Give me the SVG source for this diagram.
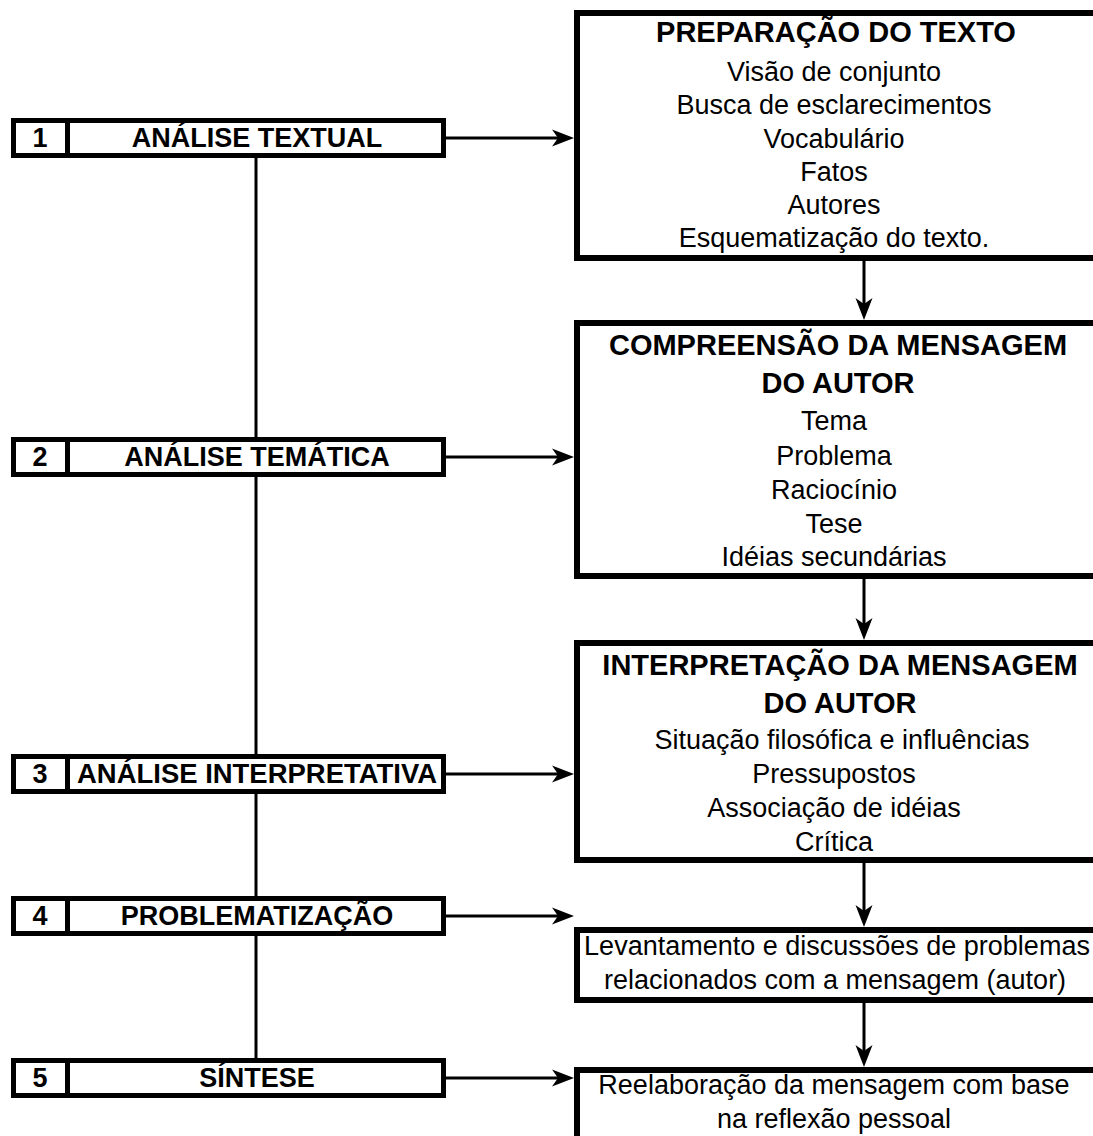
<svg xmlns="http://www.w3.org/2000/svg" width="1093" height="1136" viewBox="0 0 1093 1136">
<style>
text{font-family:"Liberation Sans",Arial,sans-serif;font-size:27px;fill:#000;text-anchor:middle}
.b{font-weight:bold}
.t{font-weight:bold;font-size:29px}
.box{fill:#fff;stroke:#000;stroke-width:5}
.rbox{fill:#fff;stroke:#000;stroke-width:6}
.ln{stroke:#000;stroke-width:3;fill:none}
</style>
<defs>
<marker id="ah" markerUnits="userSpaceOnUse" viewBox="0 0 22 18" markerWidth="22" markerHeight="18" refX="6" refY="9" orient="auto">
<path d="M0,0.5 L22,9 L0,17.5 L6,9 Z" fill="#000"/>
</marker>
</defs>
<g id="connectors">
<line class="ln" x1="256" y1="158" x2="256" y2="1059"/>
<line class="ln" x1="446" y1="138" x2="558" y2="138" marker-end="url(#ah)"/>
<line class="ln" x1="446" y1="457" x2="558" y2="457" marker-end="url(#ah)"/>
<line class="ln" x1="446" y1="774" x2="558" y2="774" marker-end="url(#ah)"/>
<line class="ln" x1="446" y1="916" x2="558" y2="916" marker-end="url(#ah)"/>
<line class="ln" x1="446" y1="1078" x2="558" y2="1078" marker-end="url(#ah)"/>
<line class="ln" x1="864" y1="261" x2="864" y2="304" marker-end="url(#ah)"/>
<line class="ln" x1="864" y1="579" x2="864" y2="624" marker-end="url(#ah)"/>
<line class="ln" x1="864" y1="863" x2="864" y2="911" marker-end="url(#ah)"/>
<line class="ln" x1="864" y1="1003" x2="864" y2="1051" marker-end="url(#ah)"/>
</g>
<g id="step1">
<rect class="box" x="13.5" y="120.5" width="430" height="35"/>
<line x1="67.5" y1="120" x2="67.5" y2="156" stroke="#000" stroke-width="5"/>
<text class="b" x="40" y="147">1</text>
<text class="b" x="257" y="147">ANÁLISE TEXTUAL</text>
</g>
<g id="step2">
<rect class="box" x="13.5" y="439.5" width="430" height="35"/>
<line x1="67.5" y1="439" x2="67.5" y2="475" stroke="#000" stroke-width="5"/>
<text class="b" x="40" y="466">2</text>
<text class="b" x="257" y="466">ANÁLISE TEMÁTICA</text>
</g>
<g id="step3">
<rect class="box" x="13.5" y="756.5" width="430" height="35"/>
<line x1="67.5" y1="756" x2="67.5" y2="792" stroke="#000" stroke-width="5"/>
<text class="b" x="40" y="783">3</text>
<text class="b" x="257" y="783" textLength="360" lengthAdjust="spacingAndGlyphs">ANÁLISE INTERPRETATIVA</text>
</g>
<g id="step4">
<rect class="box" x="13.5" y="898.5" width="430" height="35"/>
<line x1="67.5" y1="898" x2="67.5" y2="934" stroke="#000" stroke-width="5"/>
<text class="b" x="40" y="925">4</text>
<text class="b" x="257" y="925">PROBLEMATIZAÇÃO</text>
</g>
<g id="step5">
<rect class="box" x="13.5" y="1060.5" width="430" height="35"/>
<line x1="67.5" y1="1060" x2="67.5" y2="1096" stroke="#000" stroke-width="5"/>
<text class="b" x="40" y="1087">5</text>
<text class="b" x="257" y="1087">SÍNTESE</text>
</g>
<g id="box1">
<rect class="rbox" x="577" y="13" width="530" height="245"/>
<text class="t" x="836" y="42">PREPARAÇÃO DO TEXTO</text>
<text x="834" y="81">Visão de conjunto</text>
<text x="834" y="114">Busca de esclarecimentos</text>
<text x="834" y="148">Vocabulário</text>
<text x="834" y="181">Fatos</text>
<text x="834" y="214">Autores</text>
<text x="834" y="247">Esquematização do texto.</text>
</g>
<g id="box2">
<rect class="rbox" x="577" y="323" width="530" height="253"/>
<text class="t" x="838" y="355">COMPREENSÃO DA MENSAGEM</text>
<text class="t" x="838" y="393">DO AUTOR</text>
<text x="834" y="430">Tema</text>
<text x="834" y="465">Problema</text>
<text x="834" y="499">Raciocínio</text>
<text x="834" y="533">Tese</text>
<text x="834" y="566">Idéias secundárias</text>
</g>
<g id="box3">
<rect class="rbox" x="577" y="643" width="530" height="217"/>
<text class="t" x="840" y="675">INTERPRETAÇÃO DA MENSAGEM</text>
<text class="t" x="840" y="713">DO AUTOR</text>
<text x="842" y="749">Situação filosófica e influências</text>
<text x="834" y="783">Pressupostos</text>
<text x="834" y="817">Associação de idéias</text>
<text x="834" y="851">Crítica</text>
</g>
<g id="box4">
<rect class="rbox" x="577" y="930" width="530" height="70"/>
<text x="837" y="955">Levantamento e discussões de problemas</text>
<text x="835" y="989">relacionados com a mensagem (autor)</text>
</g>
<g id="box5">
<rect class="rbox" x="577" y="1070" width="530" height="100"/>
<text x="834" y="1094">Reelaboração da mensagem com base</text>
<text x="834" y="1128">na reflexão pessoal</text>
</g>
</svg>
